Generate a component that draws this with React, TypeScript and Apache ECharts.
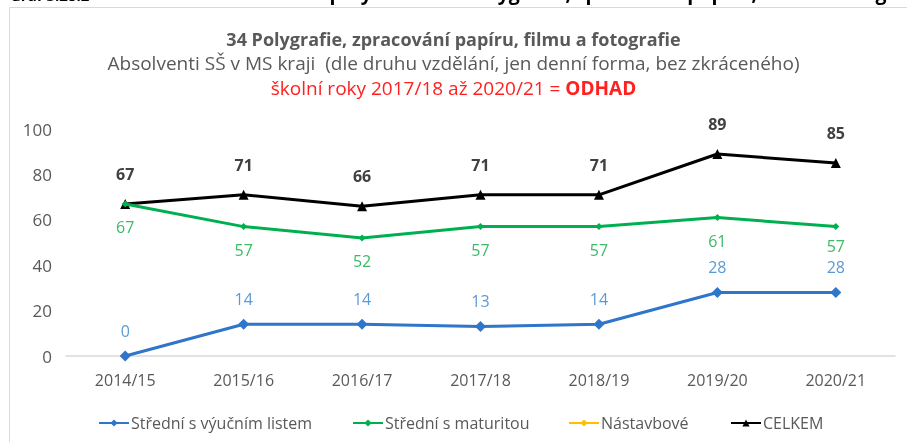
import React, { useEffect, useRef } from "react";
import * as echarts from "echarts";

const categories = ["2014/15", "2015/16", "2016/17", "2017/18", "2018/19", "2019/20", "2020/21"];
const vyucni = [0, 14, 14, 13, 14, 28, 28];
const maturita = [67, 57, 52, 57, 57, 61, 57];
const nastavbove: (number | null)[] = [null, null, null, null, null, null, null];
const celkem = [67, 71, 66, 71, 71, 89, 85];
const seriesNames = ["Střední s výučním listem", "Střední s maturitou", "Nástavbové", "CELKEM"];
const yTicks = { min: 0, max: 100, interval: 20 };

const FONT = "'Open Sans', 'Noto Sans', sans-serif";

export default function App() {
  const ref = useRef<HTMLDivElement>(null);
  useEffect(() => {
    if (!ref.current) return;
    const chart = echarts.init(ref.current, null, { renderer: "svg" });
    const legendLefts = [93, 347, 563, 725];
    const colors = ["#2f75c9", "#00b050", "#ffc000", "#000000"];
    const labelColors = ["#5b9bd5", "#3cba6a", "#ffc000", "#404040"];
    const datas = [vyucni, maturita, nastavbove, celkem];
    const symbols = ["diamond", "diamond", "diamond", "triangle"];
    const symbolSizes = [11, 7, 7, 10];
    const positions = ["top", "bottom", "top", "top"];
    const distances = [12, 12, 12, 17];
    chart.setOption({
      animation: false,
      textStyle: { fontFamily: FONT },
      graphic: [
        {
          type: "rect",
          shape: { x: 9.5, y: 7.5, width: 1000, height: 1000 },
          style: { fill: "#fff", stroke: "#d9d9d9", lineWidth: 1 },
          z: -10,
        },
        {
          type: "text",
          x: 10,
          y: 2,
          style: {
            text: "Graf 3.28.2",
            font: `bold 15px ${FONT}`,
            fill: "#000",
            verticalAlign: "bottom",
          },
        },
        {
          type: "text",
          x: 160,
          y: 2,
          style: {
            text: "Absolventi SŠ skupiny oborů 34 Polygrafie, zpracování papíru, filmu a fotografie",
            font: `bold 19.5px ${FONT}`,
            fill: "#000",
            verticalAlign: "bottom",
          },
        },
        {
          type: "text",
          left: "center",
          top: 30,
          style: {
            text: "34 Polygrafie, zpracování papíru, filmu a fotografie",
            font: `bold 18px ${FONT}`,
            fill: "#595959",
          },
        },
        {
          type: "text",
          left: "center",
          top: 53,
          style: {
            text: "Absolventi SŠ v MS kraji  (dle druhu vzdělání, jen denní forma, bez zkráceného)",
            font: `19px ${FONT}`,
            fill: "#595959",
          },
        },
        {
          type: "text",
          left: "center",
          top: 78,
          style: {
            text: "{n|školní roky 2017/18 až 2020/21 = }{b|ODHAD}",
            rich: {
              n: { fontFamily: FONT, fontSize: 19, fill: "#ff2020" },
              b: { fontFamily: FONT, fontWeight: "bold", fontSize: 19, fill: "#ff2020" },
            },
          },
        },
      ],
      legend: seriesNames.map((n, i) => ({
        data: [n],
        left: legendLefts[i],
        top: 410,
        itemWidth: 30,
        itemHeight: 9,
        itemGap: 0,
        textStyle: { color: "#595959", fontSize: 16, fontFamily: FONT, padding: [0, 0, 0, -3] },
      })),
      grid: { left: 66, right: 12, top: 129, bottom: 86, containLabel: false },
      xAxis: {
        type: "category",
        data: categories,
        boundaryGap: true,
        axisLine: { lineStyle: { color: "#d9d9d9", width: 1.5 } },
        axisTick: { show: false },
        axisLabel: { color: "#595959", fontSize: 16, margin: 16, fontFamily: FONT },
      },
      yAxis: {
        type: "value",
        min: yTicks.min,
        max: yTicks.max,
        interval: yTicks.interval,
        axisLine: { show: false },
        axisTick: { show: false },
        splitLine: { show: false },
        axisLabel: { color: "#595959", fontSize: 17, margin: 14, fontFamily: FONT },
      },
      series: seriesNames.map((n, i) => ({
        name: n,
        type: "line",
        data: datas[i].map((v, j) =>
          i === 1 && j === datas[i].length - 1
            ? { value: v, label: { distance: 8 } }
            : v
        ),
        symbol: symbols[i],
        symbolSize: symbolSizes[i],
        showAllSymbol: true,
        itemStyle: { color: colors[i] },
        lineStyle: { color: colors[i], width: 3 },
        label: {
          show: true,
          position: positions[i],
          distance: distances[i],
          color: labelColors[i],
          fontSize: 16,
          fontWeight: i === 3 ? "bold" : "normal",
          fontFamily: FONT,
        },
        z: 10 - i,
      })),
    });
    return () => chart.dispose();
  }, []);
  return (
    <div
      ref={ref}
      style={{ position: "fixed", left: 0, top: 0, width: 907, height: 442 }}
    />
  );
}
